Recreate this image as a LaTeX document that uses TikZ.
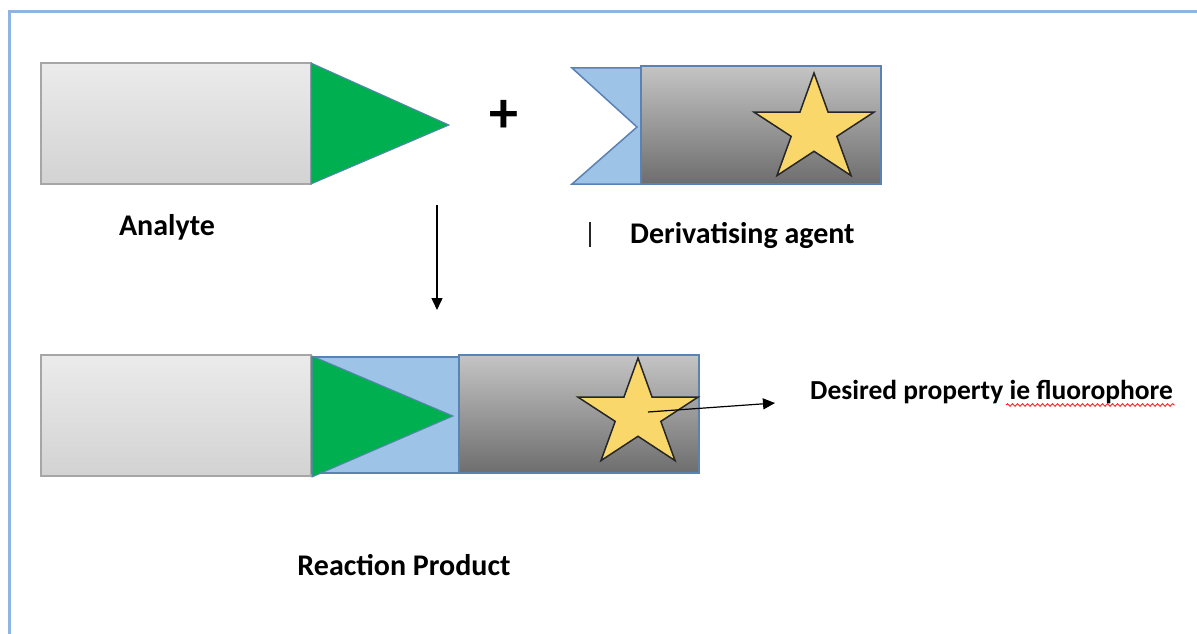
\documentclass[tikz,border=0pt]{standalone}
\usepackage{fontspec}
\setmainfont{Carlito}
\usetikzlibrary{arrows.meta,decorations.pathmorphing}
\definecolor{bordblue}{HTML}{8EB4E3}
\definecolor{greenT}{HTML}{00B050}
\definecolor{lblue}{HTML}{9DC3E6}
\definecolor{edgeblue}{HTML}{5B82B5}
\definecolor{stary}{HTML}{FAD76A}
\pgfdeclareverticalshading{analshade}{100bp}{color(0bp)=(black!9); color(22bp)=(black!18); color(100bp)=(black!3)}
\tikzset{
  analbox/.style={draw=black!35, line width=1.5pt, shading=analshade},
  greytri/.style={fill=greenT, draw=edgeblue, line width=1pt},
  bluepart/.style={fill=lblue, draw=edgeblue, line width=1.5pt, line join=miter},
  graybox/.style={draw=edgeblue, line width=1.5pt, top color=black!23, bottom color=black!57},
  starfill/.style={fill=stary, draw=black!85, line width=1.5pt, line join=miter},
  lbl/.style={font=\fontsize{30}{33}\selectfont\bfseries, inner sep=0pt},
  arr/.style={-{Triangle[length=12pt,width=11pt]}, line width=1.5pt, black},
  starpic/.pic={
    \begin{scope}[yscale=0.9]
      \path[starfill] (-90:63) -- (-54:24) -- (-18:63) -- (18:24) -- (54:63) -- (90:24) -- (126:63) -- (162:24) -- (198:63) -- (234:24) -- cycle;
    \end{scope}
  }
}
\begin{document}
\begin{tikzpicture}[x=1pt,y=-1pt]
\useasboundingbox (0,0) rectangle (1197,634);
% frame
\draw[bordblue, line width=3.5pt] (9.5,640) -- (9.5,11.5) -- (1200,11.5);

% ---- Analyte (top)
\path[analbox] (41,63) rectangle (311,184);
\path[greytri] (311,63) -- (449,125) -- (311,184) -- cycle;
\node[lbl] (analyte) at (167,227) {Analyte};

\node[font=\fontsize{58}{60}\selectfont\bfseries, inner sep=0pt] (plus) at (503.5,116.5) {+};

% ---- Derivatising agent
\path[bluepart] (572,68) -- (641,68) -- (641,184) -- (572,184) -- (637,127) -- cycle;
\path[graybox] (641,66) rectangle (881,184);
\pic at (814,129.7) {starpic};
\node[lbl, anchor=west] (deriv) at (630,235) {Derivatising agent};
\coordinate (barTop) at (590,222);
\coordinate (barBot) at (590,247);
\draw[line width=1.3pt, black!85] (barTop) -- (barBot);

% ---- reaction arrow
\coordinate (rA) at (437,205);
\coordinate (rB) at (437,310);
\draw[arr] (rA) -- (rB);

% ---- Reaction product
\path[analbox] (41,355) rectangle (311,476);
\path[bluepart] (312,357) rectangle (459,473);
\path[greytri] (312,356) -- (453,416) -- (312,477) -- cycle;
\path[graybox] (459,355) rectangle (699,473);
\pic at (638,414.7) {starpic};
\node[lbl] (product) at (404,565) {Reaction Product};

% ---- property arrow
\node[lbl, font=\fontsize{27.5}{30}\selectfont\bfseries, anchor=west] (desired) at (810,392) {Desired property ie fluorophore};
\coordinate (sC) at (648,412);
\coordinate (tipD) at (775,403);
\draw[arr, line width=1.2pt] (sC) -- (tipD);
\coordinate (wavA) at (1006,405);
\coordinate (wavB) at (1175,405);
\draw[red!85, line width=0.9pt, decorate, decoration={snake, amplitude=1.3pt, segment length=5pt}] (wavA) -- (wavB);
\end{tikzpicture}
\end{document}
